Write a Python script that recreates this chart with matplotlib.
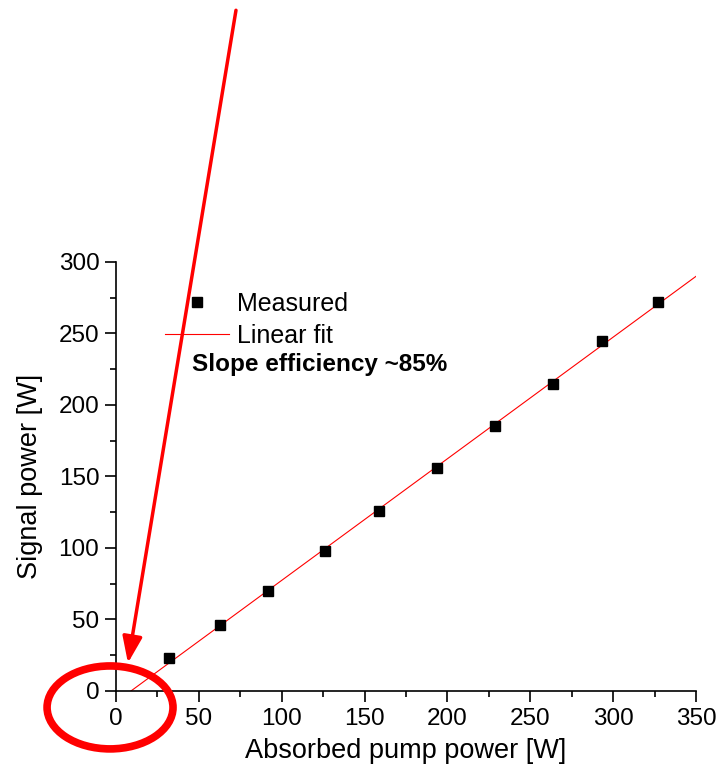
import numpy as np
import matplotlib
matplotlib.use('Agg')
import matplotlib.pyplot as plt
from matplotlib.patches import Ellipse
from matplotlib.ticker import MultipleLocator

plt.rcParams['font.family'] = ['Liberation Sans', 'DejaVu Sans']

# Данные
pump = [32, 63, 92, 126, 159, 194, 229, 264, 293, 327]
signal = [23, 46, 70, 98, 126, 156, 185, 215, 245, 272]
fit_end = 350

fig = plt.figure(figsize=(7.21, 7.73), dpi=100)
ax = fig.add_axes([0.1609, 0.1061, 0.8044, 0.555])

# линейная аппроксимация
k, b = np.polyfit(pump, signal, 1)
x0 = -b / k
xf = np.array([x0, fit_end])
ax.plot(xf, k * xf + b, color='red', lw=0.8, label='Linear fit', zorder=2)
ax.plot(pump, signal, 's', color='black', ms=7, label='Measured', zorder=3)

ax.set_xlim(0, 350)
ax.set_ylim(0, 300)
ax.xaxis.set_major_locator(MultipleLocator(50))
ax.xaxis.set_minor_locator(MultipleLocator(25))
ax.yaxis.set_major_locator(MultipleLocator(50))
ax.yaxis.set_minor_locator(MultipleLocator(25))
ax.tick_params(which='major', direction='out', length=8, width=1.2, labelsize=17.5, pad=4)
ax.tick_params(which='minor', direction='out', length=4, width=1.2)
for s in ['top', 'right']:
    ax.spines[s].set_visible(False)
for s in ['left', 'bottom']:
    ax.spines[s].set_linewidth(1.2)

ax.set_xlabel('Absorbed pump power [W]', fontsize=19.5, labelpad=6)
ax.set_ylabel('Signal power [W]', fontsize=19.5, labelpad=11)

handles, labels = ax.get_legend_handles_labels()
ax.legend(handles[::-1], labels[::-1], loc='upper left', bbox_to_anchor=(0.0845, 0.930),
          frameon=False, fontsize=18, handlelength=2.56, handletextpad=0.32,
          borderpad=0, borderaxespad=0, labelspacing=0.3, markerscale=1.0)
ax.text(46, 228, 'Slope efficiency ~85%', fontsize=17.5, fontweight='bold', va='center')

# стрелка и овал
ax.annotate('', xy=(7.2, 19.6), xytext=(72.4, 476), xycoords='data',
            annotation_clip=False,
            arrowprops=dict(arrowstyle='-|>,head_length=1.6,head_width=0.6',
                            color='red', lw=2.5, shrinkA=0, shrinkB=0))
ax.add_patch(Ellipse((-3.6, -11.5), 76, 58, fill=False, edgecolor='red', lw=5.5,
                     clip_on=False, zorder=5))

plt.savefig('out.png', dpi=100)
